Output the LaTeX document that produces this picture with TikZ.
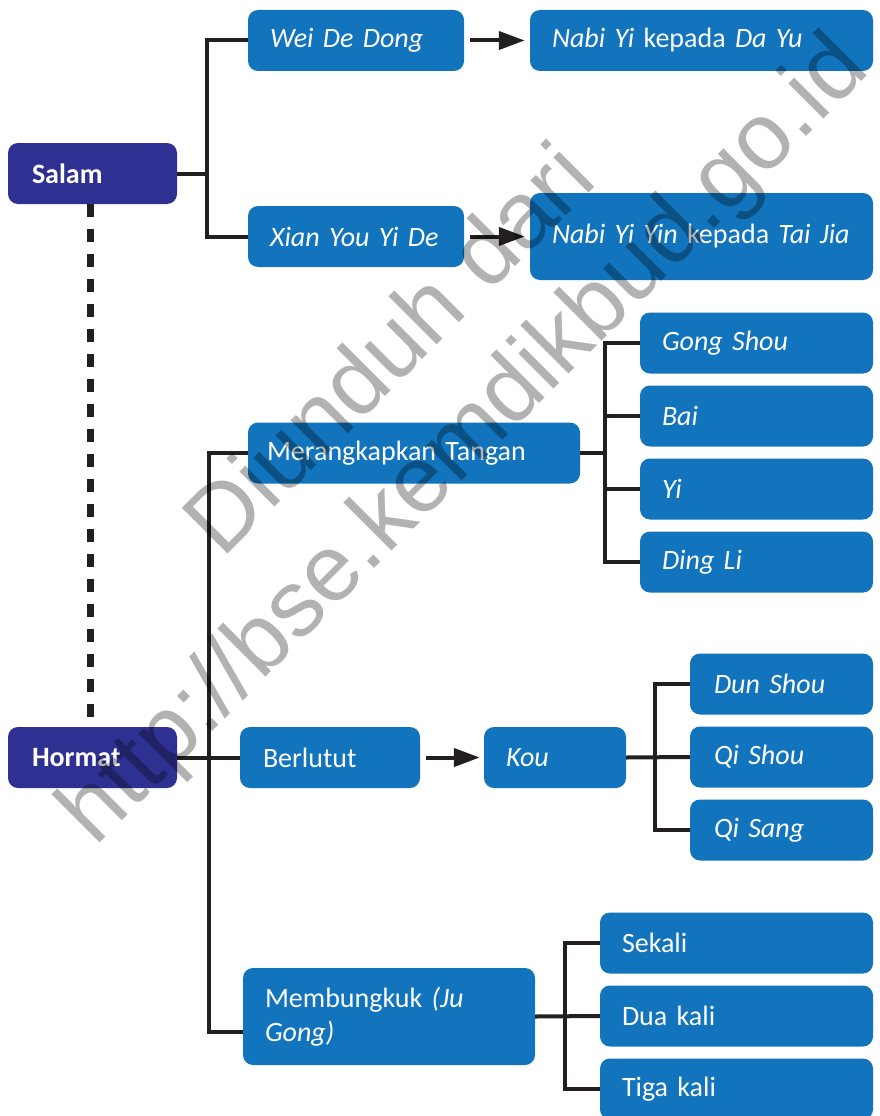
\documentclass[tikz,border=0pt]{standalone}
\usepackage{fontspec}
\usetikzlibrary{arrows.meta}
\newfontfamily\boxfont{Carlito}
\newfontfamily\markfont{Liberation Sans}
\definecolor{boxblue}{RGB}{17,116,188}
\definecolor{headblue}{RGB}{46,49,146}
\definecolor{linkgray}{RGB}{35,31,32}

\begin{document}
\begin{tikzpicture}[x=1pt, y=-1pt,
  box/.style={rounded corners=10pt, fill=boxblue, text=white, align=left,
    font=\boxfont\fontsize{28}{34}\selectfont, inner xsep=22pt, inner ysep=0pt,
    minimum height=61pt},
  head/.style={box, fill=headblue, font=\boxfont\bfseries\fontsize{28}{34}\selectfont,
    inner xsep=24pt},
  link/.style={draw=linkgray, line width=4pt},
  arrow/.style={link, -{Triangle[length=26pt, width=18pt]}},
  dashlink/.style={draw=linkgray, line width=7pt, dash pattern=on 13pt off 12pt},
  watermark/.style={text=black, text opacity=0.3, rotate=45, anchor=base west,
    inner sep=0pt, font=\markfont\fontsize{94}{110}\selectfont}]
\useasboundingbox (0,0) rectangle (879,1116);

\node[head, text width=121pt] (salam) at (92.5,173.5) {Salam};
\node[head, text width=121pt] (hormat) at (92.5,757.5) {Hormat};

\node[box, text width=172pt] (wei) at (356,40.5) {\textit{Wei De Dong}};
\node[box, text width=299pt] (dayu) at (701.5,40.5) {\textit{Nabi Yi} kepada \textit{Da Yu}};
\node[box, text width=172pt] (xian) at (356,236.5) {\textit{Xian You Yi De}};
\node[box, text width=299pt, minimum height=87pt] (taijia) at (701.5,236.5) {\textit{Nabi Yi Yin} kepada \textit{Tai Jia}};

\node[box, text width=294pt, inner xsep=19pt] (tangan) at (414,453) {Merangkapkan Tangan};
\node[box, text width=189pt] (gong) at (756.5,343) {\textit{Gong Shou}};
\node[box, text width=189pt] (bai) at (756.5,416) {\textit{Bai}};
\node[box, text width=189pt] (yi) at (756.5,489) {\textit{Yi}};
\node[box, text width=189pt] (dingli) at (756.5,562) {\textit{Ding Li}};

\node[box, text width=134pt, inner xsep=23pt] (berlutut) at (330,757.5) {Berlutut};
\node[box, text width=98pt] (kou) at (555,757.5) {\textit{Kou}};
\node[box, text width=135pt, inner xsep=24pt] (dun) at (781.5,684) {\textit{Dun Shou}};
\node[box, text width=135pt, inner xsep=24pt] (qishou) at (781.5,757) {\textit{Qi Shou}};
\node[box, text width=135pt, inner xsep=24pt] (qisang) at (781.5,830) {\textit{Qi Sang}};

\node[box, text width=248pt, minimum height=97pt] (bungkuk) at (389,1016.5) {Membungkuk \textit{(Ju}\\\textit{Gong)}};
\node[box, text width=229pt] (sekali) at (736.5,943) {Sekali};
\node[box, text width=229pt] (dua) at (736.5,1016) {Dua kali};
\node[box, text width=229pt] (tiga) at (736.5,1089) {Tiga kali};

\coordinate (sj) at (207,173.5);
\coordinate (hj) at (209,757.5);
\coordinate (tj) at (605,453);
\coordinate (kj) at (655,757);
\coordinate (bj) at (565,1016.5);

\draw[link] (salam.east) -- (sj);
\draw[link] (wei.west) -| (sj) |- (xian.west);
\draw[arrow] ([xshift=6pt]wei.east) -- ([xshift=-5pt]dayu.west);
\draw[arrow] ([xshift=6pt]xian.east) -- ([xshift=-5pt]xian.east -| taijia.west);

\draw[dashlink] ([xshift=-2pt]salam.south) -- ([xshift=-2pt]hormat.north);

\draw[link] (hormat.east) -- (berlutut.west);
\draw[link] (tangan.west) -| (hj) |- ([yshift=-15pt]bungkuk.west);

\draw[link] (tangan.east) -- (tj);
\draw[link] (gong.west) -| (tj) |- (dingli.west);
\draw[link] (tj |- bai) -- (bai.west);
\draw[link] (tj |- yi) -- (yi.west);

\draw[arrow] ([xshift=6pt]berlutut.east) -- ([xshift=-4pt]kou.west);
\draw[link] (kou.east) -- (qishou.west);
\draw[link] (dun.west) -| (kj) |- (qisang.west);

\draw[link] (bungkuk.east) -- (dua.west);
\draw[link] (sekali.west) -| (bj) |- (tiga.west);

\node[watermark] (mark1) at (222,560) {Diunduh dari};
\node[watermark] (mark2) at (95,848) {http://bse.kemdikbud.go.id};
\end{tikzpicture}
\end{document}
